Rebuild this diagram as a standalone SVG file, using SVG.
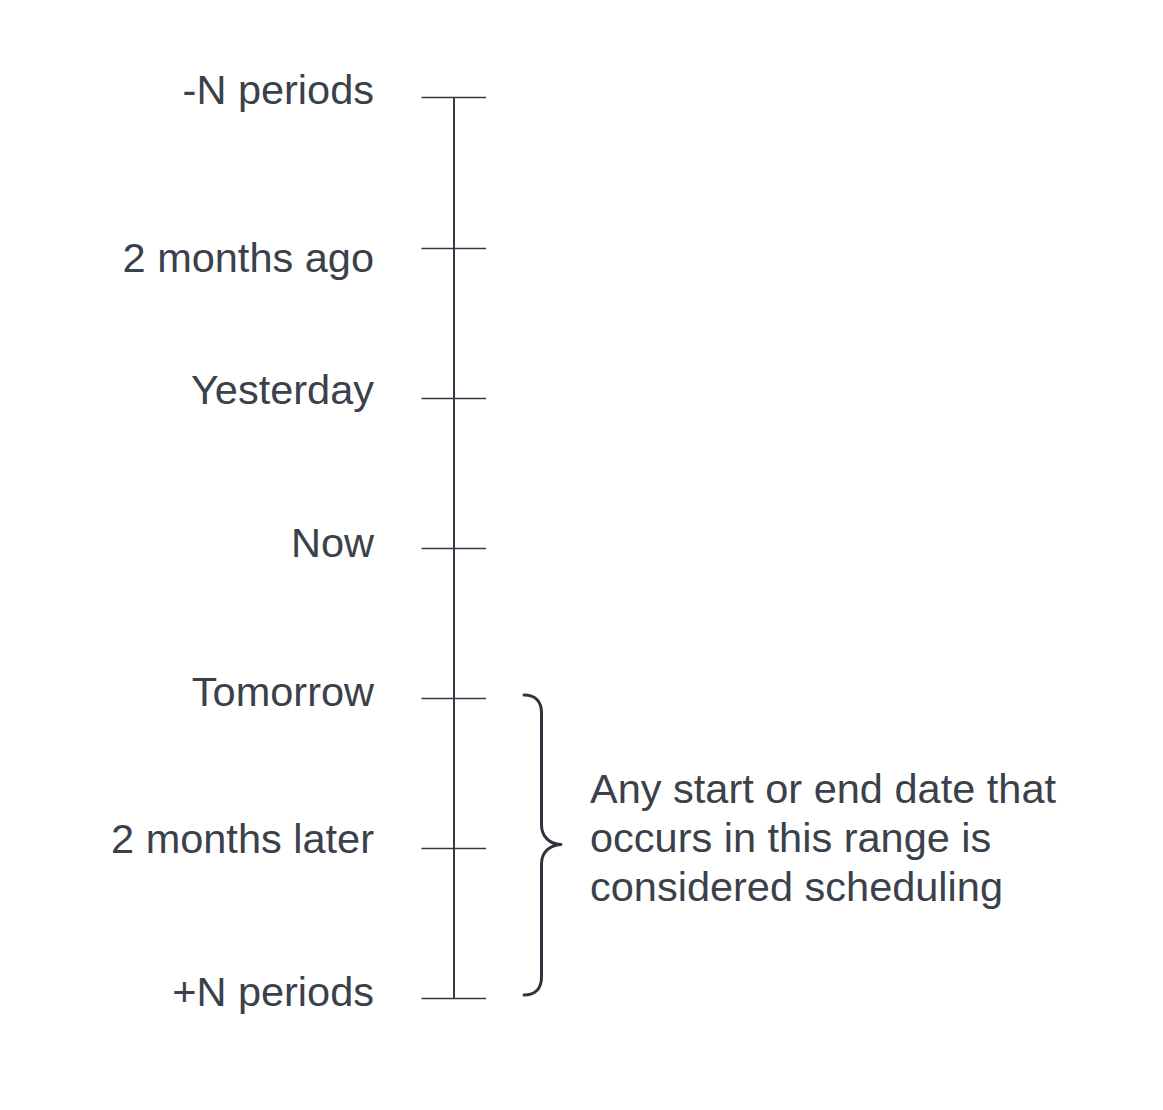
<svg xmlns="http://www.w3.org/2000/svg" width="1163" height="1110" viewBox="0 0 1163 1110">
<style>
.lbl{font-family:"Liberation Sans",Arial,sans-serif;font-size:41.5px;fill:#3a414b;text-anchor:end}
.note{font-family:"Liberation Sans",Arial,sans-serif;font-size:41.5px;fill:#3a414b}
.tick{stroke:#333a44;stroke-width:1.5;fill:none}
.axis{stroke:#333a44;stroke-width:2;fill:none}
.brace{stroke:#2e343d;stroke-width:3;fill:none;stroke-linecap:round;stroke-linejoin:round}
</style>
<rect width="1163" height="1110" fill="#ffffff"/>
<g id="connectors">
<line class="axis" x1="454" y1="98" x2="454" y2="999"/>
<line class="tick" x1="421.5" y1="97.5" x2="486" y2="97.5"/>
<line class="tick" x1="421.5" y1="248.5" x2="486" y2="248.5"/>
<line class="tick" x1="421.5" y1="398.5" x2="486" y2="398.5"/>
<line class="tick" x1="421.5" y1="548.5" x2="486" y2="548.5"/>
<line class="tick" x1="421.5" y1="698.5" x2="486" y2="698.5"/>
<line class="tick" x1="421.5" y1="848.5" x2="486" y2="848.5"/>
<line class="tick" x1="421.5" y1="998.5" x2="486" y2="998.5"/>
<path class="brace" d="M524,695 C535,695 541.5,701 541.5,713 L541.5,825 C541.5,837 550,844 561,844.5 C550,845 541.5,852 541.5,864 L541.5,977 C541.5,989 535,995 524,995"/>
</g>
<g id="n-minus-n"><text class="lbl" x="374" y="104">-N periods</text></g>
<g id="n-2-months-ago"><text class="lbl" x="374" y="272">2 months ago</text></g>
<g id="n-yesterday"><text class="lbl" x="374" y="404">Yesterday</text></g>
<g id="n-now"><text class="lbl" x="374" y="557">Now</text></g>
<g id="n-tomorrow"><text class="lbl" x="374" y="706">Tomorrow</text></g>
<g id="n-2-months-later"><text class="lbl" x="374" y="853">2 months later</text></g>
<g id="n-plus-n"><text class="lbl" x="374" y="1006">+N periods</text></g>
<g id="n-note">
<text class="note" x="590" y="803">Any start or end date that</text>
<text class="note" x="590" y="852">occurs in this range is</text>
<text class="note" x="590" y="901">considered scheduling</text>
</g>
</svg>
